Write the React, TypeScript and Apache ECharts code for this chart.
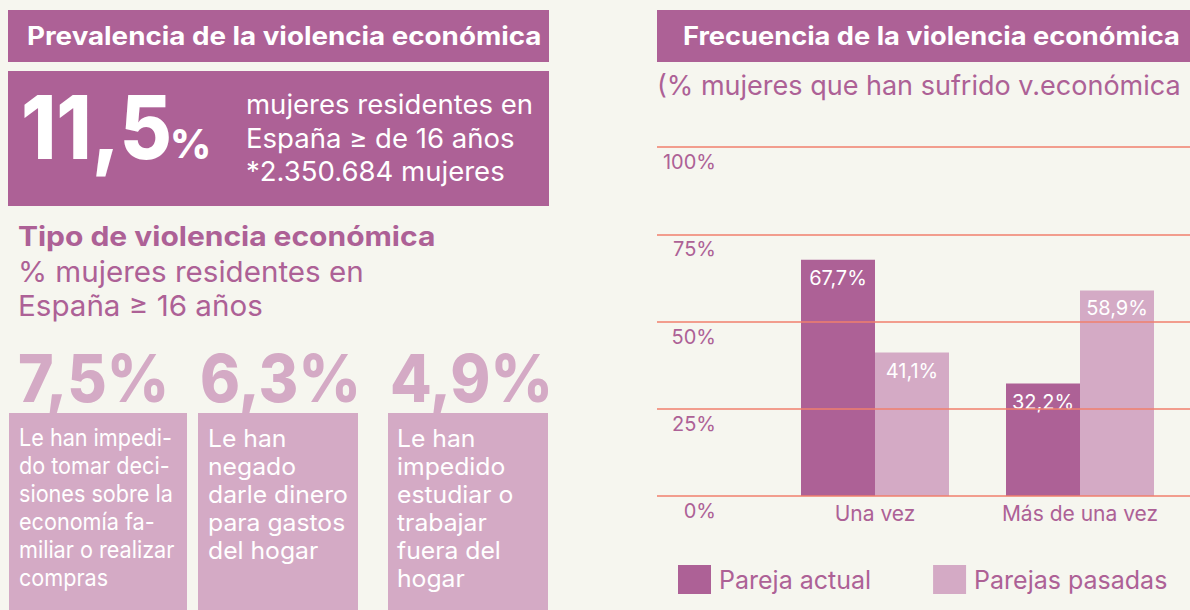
import React, { useEffect, useRef } from "react";
import * as echarts from "echarts";

// ---------- data ----------
const categories = ["Una vez", "Más de una vez"];
const seriesNames = ["Pareja actual", "Parejas pasadas"];
const parejaActual = [67.7, 32.2];
const parejasPasadas = [41.1, 58.9];
const yMin = 0;
const yMax = 100;
const yInterval = 25;

const leftTitle = "Prevalencia de la violencia económica";
const rightTitle = "Frecuencia de la violencia económica";
const rightSubtitle = "(% mujeres que han sufrido v.económica";
const prevalence = 11.5;
const prevalenceLines = ["mujeres residentes en", "España ≥ de 16 años", "*2.350.684 mujeres"];
const typeTitle = "Tipo de violencia económica";
const typeSubtitle = ["% mujeres residentes en", "España ≥ 16 años"];
const typeValues = [7.5, 6.3, 4.9];
const typeTexts = [
  ["Le han impedi-", "do tomar deci-", "siones sobre la", "economía fa-", "miliar o realizar", "compras"],
  ["Le han", "negado", "darle dinero", "para gastos", "del hogar"],
  ["Le han", "impedido", "estudiar o", "trabajar", "fuera del", "hogar"],
];

// ---------- style ----------
const DARK = "#ad6196";
const LIGHT = "#d4aac5";
const BG = "#f6f6ef";
const GRIDLINE = "#f07f6d";
const FONT = "Inter";

const fmt = (v: number) => v.toFixed(1).replace(".", ",");

export default function App() {
  const ref = useRef<HTMLDivElement>(null);
  useEffect(() => {
    if (!ref.current) return;
    const chart = echarts.init(ref.current, undefined, { renderer: "svg" });

    const boxX = [9, 198, 388];
    const boxW = [178, 160, 160];
    const numX = [18, 200, 390];
    const textScale = [0.9, 1.03, 1.03];

    const graphic: any[] = [
      { type: "rect", shape: { x: 8, y: 10, width: 541, height: 52 }, style: { fill: DARK } },
      {
        type: "text", x: 27, y: 36, scaleX: 1.11,
        style: { text: leftTitle, fill: "#fff", font: `bold 25px ${FONT}`, verticalAlign: "middle" },
      },
      { type: "rect", shape: { x: 8, y: 71, width: 541, height: 135 }, style: { fill: DARK } },
      {
        type: "text", x: 21, y: 127, scaleX: 0.91,
        style: { text: fmt(prevalence), fill: "#fff", font: `800 88px ${FONT}`, verticalAlign: "middle" },
      },
      {
        type: "text", x: 170, y: 143,
        style: { text: "%", fill: "#fff", font: `800 40px ${FONT}`, verticalAlign: "middle" },
      },
      ...prevalenceLines.map((t, i) => ({
        type: "text", x: 246, y: 105 + i * 33.5, scaleX: 1.02,
        style: { text: t, fill: "#fff", font: `27px ${FONT}`, verticalAlign: "middle" },
      })),
      {
        type: "text", x: 18, y: 236, scaleX: 1.11,
        style: { text: typeTitle, fill: DARK, font: `bold 27px ${FONT}`, verticalAlign: "middle" },
      },
      ...typeSubtitle.map((t, i) => ({
        type: "text", x: 18, y: 272 + i * 34, scaleX: 1.02,
        style: { text: t, fill: DARK, font: `29px ${FONT}`, verticalAlign: "middle" },
      })),
      ...typeValues.map((v, i) => ({
        type: "text", x: numX[i], y: 378, scaleX: 0.92,
        style: { text: fmt(v) + "%", fill: LIGHT, font: `800 66px ${FONT}`, verticalAlign: "middle" },
      })),
      ...typeValues.map((_, i) => ({
        type: "rect", shape: { x: boxX[i], y: 413, width: boxW[i], height: 210 }, style: { fill: LIGHT },
      })),
      ...typeTexts.flatMap((lines, i) =>
        lines.map((t, j) => ({
          type: "text", x: boxX[i] + 10 - (i === 2 ? 1 : 0), y: 438 + j * 28, scaleX: textScale[i],
          style: { text: t, fill: "#fff", font: `24px ${FONT}`, verticalAlign: "middle" },
        }))
      ),
      { type: "rect", shape: { x: 657, y: 10, width: 540, height: 52 }, style: { fill: DARK } },
      {
        type: "text", x: 683, y: 36, scaleX: 1.09,
        style: { text: rightTitle, fill: "#fff", font: `bold 25px ${FONT}`, verticalAlign: "middle" },
      },
      {
        type: "text", x: 657, y: 85,
        style: { text: rightSubtitle, fill: DARK, font: `27px ${FONT}`, verticalAlign: "middle" },
      },
    ];

    chart.setOption({
      animation: false,
      backgroundColor: BG,
      textStyle: { fontFamily: FONT },
      graphic,
      grid: [
        { left: 657, top: 147, width: 545, height: 349 },
        { left: 772.5, top: 147, width: 410, height: 349 },
      ],
      xAxis: [
        { type: "category", gridIndex: 0, data: [""], show: false },
        {
          type: "category", gridIndex: 1, data: categories,
          axisLine: { show: false }, axisTick: { show: false },
          axisLabel: { fontSize: 21, color: DARK, margin: 7, fontFamily: FONT },
        },
      ],
      yAxis: [
        {
          type: "value", gridIndex: 0, min: yMin, max: yMax, interval: yInterval, z: 5,
          axisLine: { show: false }, axisTick: { show: false },
          splitLine: { show: true, lineStyle: { color: GRIDLINE, width: 1.5 } },
          axisLabel: {
            inside: true, align: "right", margin: 59, verticalAlign: "top", padding: [5, 0, 0, 0],
            formatter: "{value}%", fontSize: 20, color: DARK, fontFamily: FONT,
          },
        },
        { type: "value", gridIndex: 1, min: yMin, max: yMax, show: false, splitLine: { show: false } },
      ],
      legend: {
        left: 678, top: 565, itemWidth: 33, itemHeight: 29, itemGap: 62, padding: 0,
        icon: "rect",
        data: seriesNames,
        textStyle: { fontSize: 25, color: DARK, fontFamily: FONT, padding: [0, 0, 0, 3] },
      },
      series: [
        { name: seriesNames[0], data: parejaActual, color: DARK },
        { name: seriesNames[1], data: parejasPasadas, color: LIGHT },
      ].map((s) => ({
        type: "bar", xAxisIndex: 1, yAxisIndex: 1, name: s.name, data: s.data,
        barWidth: 74, barGap: "0%",
        itemStyle: { color: s.color },
        label: {
          show: true, position: "insideTop", distance: 8, color: "#fff", fontSize: 20, fontFamily: FONT,
          formatter: (p: any) => fmt(p.value) + "%",
        },
      })),
    });
    return () => chart.dispose();
  }, []);
  return <div ref={ref} style={{ position: "fixed", left: 0, top: 0, width: 1190, height: 610 }} />;
}
